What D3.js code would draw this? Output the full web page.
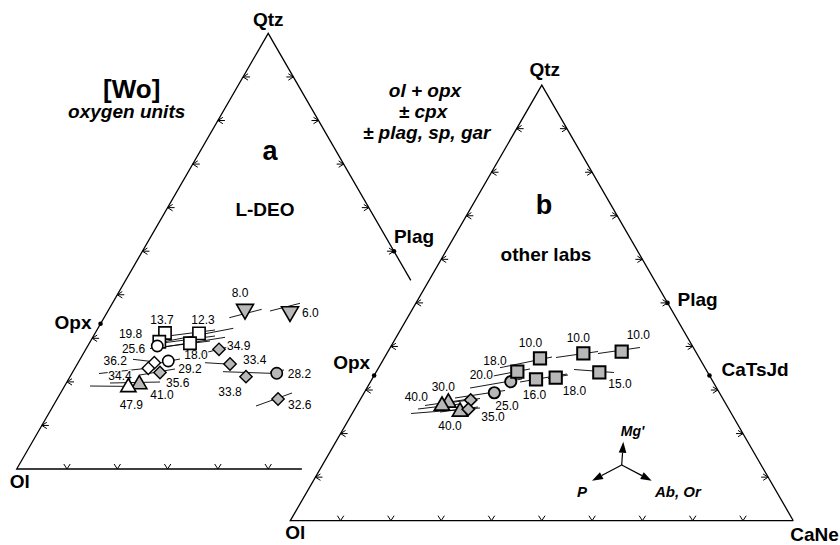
<!DOCTYPE html>
<html>
<head>
<meta charset="utf-8">
<style>
  body { margin: 0; background: #fff; }
  svg text { font-family: "Liberation Sans", Arial, Helvetica, sans-serif; }
</style>
</head>
<body>
<svg id="svg"></svg>
<script src="https://cdn.jsdelivr.net/npm/d3@7/dist/d3.min.js"></script>
<script>
  // ternary values: q = Qtz fraction, c = CaNe fraction, Ol = 1 - q - c
  // tie = projection line through the point, two ternary ends
  var tickFractions = [0.1, 0.2, 0.3, 0.4, 0.5, 0.6, 0.7, 0.8, 0.9];
  var opxPoint = [1 / 3, 0],
    plagPoint = [0.5, 0.5],
    catsjdPoint = [1 / 3, 2 / 3];

  // (a) L-DEO
  var leftOpenSquares = [
    { label: "13.7", q: 0.3122, c: 0.1387, tie: [[0.303, 0.1334], [0.3191, 0.2347]] },
    { label: "19.8", q: 0.2922, c: 0.1374, tie: [[0.287, 0.1314], [0.3053, 0.2416]] },
    { label: "12.3", q: 0.3115, c: 0.2067, tie: [[0.2927, 0.1485], [0.323, 0.2691]] },
    { label: "18.0", q: 0.2886, c: 0.2002, tie: [[0.2778, 0.142], [0.3023, 0.263]] }
  ];
  var leftOpenCircles = [
    { label: "25.6", q: 0.2824, c: 0.1383, tie: [[0.2766, 0.1267], [0.2938, 0.2374]] },
    { label: "29.2", q: 0.2479, c: 0.1774, tie: [[0.2388, 0.1456], [0.2525, 0.1984]] }
  ];
  var leftOpenDiamonds = [
    { label: "36.2", q: 0.244, c: 0.1516, tie: [[0.2518, 0.1053], [0.2445, 0.1627]] },
    { label: "34.4", q: 0.2312, c: 0.146, tie: [[0.2192, 0.054], [0.2319, 0.1491]] }
  ];
  var leftGrayDiamonds = [
    { label: "35.6", q: 0.2215, c: 0.1741, tie: [[0.2158, 0.1372], [0.2296, 0.1999]] },
    { label: "34.9", q: 0.2748, c: 0.2648, tie: [[0.264, 0.2324], [0.2812, 0.2835]] },
    { label: "33.4", q: 0.241, c: 0.3036, tie: [[0.244, 0.2524], [0.2399, 0.314]] },
    { label: "33.8", q: 0.2119, c: 0.3499, tie: [[0.2234, 0.2984], [0.2192, 0.4079]] },
    { label: "32.6", q: 0.1607, c: 0.4392, tie: [[0.1446, 0.4034], [0.1745, 0.4601]] }
  ];
  var leftGrayCircles = [
    { label: "28.2", q: 0.2197, c: 0.4071, tie: [[0.2227, 0.3922], [0.2273, 0.4178]] }
  ];
  var leftOpenTriangles = [
    { label: "47.9", q: 0.1876, c: 0.1281, tie: [[0.1905, 0.0505], [0.1894, 0.1504]] }
  ];
  var leftGrayTriangles = [
    { label: "41.0", q: 0.1944, c: 0.1465, tie: [[0.1974, 0.0868], [0.1997, 0.1851]] }
  ];
  var leftGrayDownTriangles = [
    { label: "8.0", q: 0.3666, c: 0.2706, tie: [[0.3473, 0.249], [0.3666, 0.3038]] },
    { label: "6.0", q: 0.3611, c: 0.3628, tie: [[0.3627, 0.3222], [0.3804, 0.373]] }
  ];

  // (b) other labs
  var rightGraySquares = [
    { label: "10.0", q: 0.3728, c: 0.31, tie: [[0.3512, 0.2413], [0.3758, 0.3324]] },
    { label: "10.0", q: 0.3843, c: 0.3904, tie: [[0.3747, 0.3409], [0.3884, 0.4175]] },
    { label: "10.0", q: 0.388, c: 0.4648, tie: [[0.3838, 0.4198], [0.3976, 0.4964]] },
    { label: "18.0", q: 0.3421, c: 0.2803, tie: [[0.3264, 0.2139], [0.3483, 0.3024]] },
    { label: "16.0", q: 0.3246, c: 0.3262, tie: [[0.3184, 0.2975], [0.3368, 0.3817]] },
    { label: "18.0", q: 0.3283, c: 0.3635, tie: [[0.3264, 0.3491], [0.3345, 0.3849]] },
    { label: "15.0", q: 0.3407, c: 0.444, tie: [[0.3471, 0.3905], [0.3402, 0.4734]] }
  ];
  var rightGrayCircles = [
    { label: "20.0", q: 0.3191, c: 0.2787, tie: [[0.3046, 0.205], [0.3253, 0.298]] },
    { label: "25.0", q: 0.2938, c: 0.2587, tie: [[0.2817, 0.1866], [0.2989, 0.2774]] }
  ];
  var rightGrayDiamonds = [
    { label: "", q: 0.2771, c: 0.2201, tie: [[0.2679, 0.1637], [0.2805, 0.2369]] },
    { label: "35.0", q: 0.2557, c: 0.226, tie: [[0.2495, 0.1729], [0.261, 0.2427]] }
  ];
  var rightGrayTriangles = [
    { label: "30.0", q: 0.2709, c: 0.1787, tie: [[0.2645, 0.1356], [0.2794, 0.2176]] },
    { label: "40.0", q: 0.2502, c: 0.2123, tie: [[0.2461, 0.117], [0.2587, 0.2478]] },
    { label: "40.0", q: 0.2638, c: 0.1697, tie: [[0.2564, 0.1257], [0.2679, 0.2034]] }
  ];

  var width = 840,
    height = 545;
  var gray = "#b8b8b8";
  var big = 19; // vertex / panel labels

  var svg = d3.select("#svg").attr("width", width).attr("height", height);

  // ternary -> pixel through two linear scales
  function triangle(x0, x1, yBase, yApex) {
    var sx = d3.scaleLinear().domain([0, 1]).range([x0, x1]);
    var sy = d3.scaleLinear().domain([0, 1]).range([yBase, yApex]);
    return function (q, c) {
      return [sx(c + q / 2), sy(q)];
    };
  }
  var leftT = triangle(16.7, 519.7, 469, 33.4);
  var rightT = triangle(290.3, 793.3, 520.7, 85.1);

  function drawTick(g, p, dir, stub) {
    var px = -dir[1], py = dir[0];
    var a = 5, w = 3.2, s = 7;
    var d =
      "M" + (p[0] - dir[0] * a + px * w) + "," + (p[1] - dir[1] * a + py * w) +
      "L" + p[0] + "," + p[1] +
      "L" + (p[0] - dir[0] * a - px * w) + "," + (p[1] - dir[1] * a - py * w);
    if (stub) d += "M" + p[0] + "," + p[1] + "L" + (p[0] - dir[0] * s) + "," + (p[1] - dir[1] * s);
    g.append("path").attr("d", d).attr("fill", "none").attr("stroke", "#000").attr("stroke-width", 1);
  }

  // cut = how far the base and right edge run (left frame is partly hidden)
  function drawFrame(T, cut) {
    var g = svg.append("g");
    g.append("path")
      .attr("d", d3.line()([T(0, cut), T(0, 0), T(1, 0), T(1 - cut, cut)]))
      .attr("fill", "none")
      .attr("stroke", "#000")
      .attr("stroke-width", 1.3);
    tickFractions.forEach(function (t) {
      drawTick(g, T(t, 0), [-1, 0], true);
      if (1 - t <= cut + 1e-6) drawTick(g, T(t, 1 - t), [1, 0], true);
      if (t <= cut) drawTick(g, T(0, t), [0, 1], false);
    });
    return g;
  }

  function dot(T, v) {
    var p = T(v[0], v[1]);
    svg.append("circle").attr("cx", p[0]).attr("cy", p[1]).attr("r", 2.3).attr("fill", "#000");
  }

  function text(x, y, str, size, opts) {
    opts = opts || {};
    return svg
      .append("text")
      .attr("x", x)
      .attr("y", y)
      .attr("font-size", size)
      .attr("font-weight", opts.weight || "bold")
      .attr("font-style", opts.italic ? "italic" : "normal")
      .attr("text-anchor", opts.anchor || "start")
      .text(str);
  }

  var shapes = {
    square: { type: d3.symbolSquare, size: 150, rot: 0 },
    circle: { type: d3.symbolCircle, size: 100, rot: 0 },
    diamond: { type: d3.symbolSquare, size: 76, rot: 45 },
    triangle: { type: d3.symbolTriangle, size: 100, rot: 0 },
    down: { type: d3.symbolTriangle, size: 125, rot: 180 }
  };

  function drawPoints(T, series) {
    //TIE LINES
    series.forEach(function (s) {
      svg
        .append("g")
        .selectAll("path")
        .data(s.rows)
        .enter()
        .append("path")
        .attr("d", function (d) {
          return d3.line()([T(d.tie[0][0], d.tie[0][1]), T(d.tie[1][0], d.tie[1][1])]);
        })
        .attr("stroke", "#000")
        .attr("stroke-width", 0.9);
    });
    //LABELS (white halo hides lines underneath)
    series.forEach(function (s) {
      svg
        .append("g")
        .selectAll("text")
        .data(s.rows)
        .enter()
        .append("text")
        .attr("x", function (d, i) { return T(d.q, d.c)[0] + s.place[i][1]; })
        .attr("y", function (d, i) { return T(d.q, d.c)[1] + s.place[i][2]; })
        .attr("text-anchor", function (d, i) { return s.place[i][0]; })
        .attr("font-size", 12)
        .attr("stroke", "#fff")
        .attr("stroke-width", 2.5)
        .attr("paint-order", "stroke")
        .text(function (d) { return d.label; });
    });
    //MARKERS
    series.forEach(function (s) {
      var sh = shapes[s.shape];
      svg
        .append("g")
        .selectAll("path")
        .data(s.rows)
        .enter()
        .append("path")
        .attr("d", d3.symbol().type(sh.type).size(sh.size))
        .attr("transform", function (d) {
          var p = T(d.q, d.c);
          return "translate(" + p[0] + "," + p[1] + ") rotate(" + sh.rot + ")";
        })
        .attr("fill", s.fill)
        .attr("stroke", "#000")
        .attr("stroke-width", s.sw);
    });
  }

  // ===== LEFT TRIANGLE (a) =====
  drawFrame(leftT, 0.567);
  dot(leftT, opxPoint);
  dot(leftT, plagPoint);

  drawPoints(leftT, [
    { rows: leftOpenSquares, shape: "square", fill: "#fff", sw: 1.6,
      place: [["middle", -3, -9], ["end", -17, -4], ["middle", 4, -9], ["middle", 6, 15.5]] },
    { rows: leftGrayDiamonds, shape: "diamond", fill: gray, sw: 1.4,
      place: [["start", 6, 14], ["start", 8, 1], ["start", 13, 0], ["middle", -16, 19], ["start", 10, 10]] },
    { rows: leftOpenDiamonds, shape: "diamond", fill: "#fff", sw: 1.4,
      place: [["end", -27.5, 2], ["end", -16.6, 12]] },
    { rows: leftOpenCircles, shape: "circle", fill: "#fff", sw: 1.6,
      place: [["end", -12, 7], ["start", 10, 11.5]] },
    { rows: leftGrayCircles, shape: "circle", fill: gray, sw: 1.6,
      place: [["start", 11, 4.5]] },
    { rows: leftGrayTriangles, shape: "triangle", fill: gray, sw: 1.6,
      place: [["start", 11, 15]] },
    { rows: leftOpenTriangles, shape: "triangle", fill: "#fff", sw: 1.6,
      place: [["middle", 3, 22]] },
    { rows: leftGrayDownTriangles, shape: "down", fill: gray, sw: 1.6,
      place: [["middle", -5, -12], ["start", 12, 5]] }
  ]);

  // ===== RIGHT TRIANGLE (b) =====
  drawFrame(rightT, 1);
  dot(rightT, opxPoint);
  dot(rightT, plagPoint);
  dot(rightT, catsjdPoint);

  drawPoints(rightT, [
    { rows: rightGrayTriangles, shape: "triangle", fill: gray, sw: 1.7,
      place: [["middle", -5, -11.7], ["middle", -10, 18], ["end", -14, -4.5]] },
    { rows: rightGrayDiamonds, shape: "diamond", fill: gray, sw: 1.6,
      place: [["start", 10, 10], ["start", 13, 12]] },
    { rows: rightGrayCircles, shape: "circle", fill: gray, sw: 1.9,
      place: [["end", -17.7, -2.7], ["start", 1, 17]] },
    { rows: rightGraySquares, shape: "square", fill: gray, sw: 2,
      place: [["middle", -9.5, -11], ["middle", -5, -11], ["start", 5, -12.5], ["end", -10.6, -6.7],
              ["middle", -1.5, 20], ["start", 7, 17], ["start", 9, 16]] }
  ]);

  // ===== TEXT =====
  var lq = leftT(1, 0), lo = leftT(0, 0), lopx = leftT(opxPoint[0], opxPoint[1]), lpl = leftT(plagPoint[0], plagPoint[1]);
  text(lq[0], lq[1] - 7.5, "Qtz", big, { anchor: "middle" });
  text(lo[0] - 7, lo[1] + 19, "Ol", big);
  text(lopx[0] - 9, lopx[1] + 5, "Opx", big, { anchor: "end" });
  text(lpl[0], lpl[1] - 8.5, "Plag", big);

  text(131.7, 97.5, "[Wo]", 26, { anchor: "middle" });
  text(126.7, 118, "oxygen units", big, { anchor: "middle", italic: true });
  text(270, 160, "a", 27, { anchor: "middle" });
  text(265, 216, "L-DEO", big, { anchor: "middle" });

  text(425, 97, "ol + opx", big, { anchor: "middle", italic: true });
  text(423, 118, "\u00b1 cpx", big, { anchor: "middle", italic: true });
  text(426.7, 138.5, "\u00b1 plag, sp, gar", big, { anchor: "middle", italic: true });

  var rq = rightT(1, 0), ro = rightT(0, 0), rc = rightT(0, 1),
    ropx = rightT(opxPoint[0], opxPoint[1]), rpl = rightT(plagPoint[0], plagPoint[1]),
    rcj = rightT(catsjdPoint[0], catsjdPoint[1]);
  text(rq[0] + 3, rq[1] - 9, "Qtz", big, { anchor: "middle" });
  text(ro[0] - 5, ro[1] + 18, "Ol", big);
  text(rc[0] - 3, rc[1] + 20, "CaNe", big);
  text(ropx[0] - 4, ropx[1] - 6.5, "Opx", big, { anchor: "end" });
  text(rpl[0] + 10, rpl[1] + 3.5, "Plag", big);
  text(rcj[0] + 12, rcj[1] + 0.5, "CaTsJd", big);

  text(544, 214, "b", 27, { anchor: "middle" });
  text(546, 261, "other labs", big, { anchor: "middle" });

  // ===== VECTOR LEGEND =====
  var hub = [621.7, 465];
  var arrows = [
    { tip: [623.3, 441.7], label: "Mg'", lx: 632.5, ly: 436, anchor: "middle" },
    { tip: [651.7, 480.7], label: "Ab, Or", lx: 655, ly: 496.5, anchor: "start" },
    { tip: [592, 480.7], label: "P", lx: 587, ly: 496.5, anchor: "end" }
  ];
  arrows.forEach(function (a) {
    var dx = a.tip[0] - hub[0], dy = a.tip[1] - hub[1];
    var len = Math.sqrt(dx * dx + dy * dy), ux = dx / len, uy = dy / len;
    var hl = 11, hw = 3.8;
    var bx = a.tip[0] - ux * hl, by = a.tip[1] - uy * hl;
    svg.append("line")
      .attr("x1", hub[0]).attr("y1", hub[1]).attr("x2", bx).attr("y2", by)
      .attr("stroke", "#000").attr("stroke-width", 1.2);
    svg.append("path")
      .attr("d", d3.line()([a.tip, [bx - uy * hw, by + ux * hw], [bx + uy * hw, by - ux * hw]]) + "Z")
      .attr("fill", "#000");
    text(a.lx, a.ly, a.label, a.label === "Mg'" ? 14 : 15, { anchor: a.anchor, italic: true });
  });
</script>
</body>
</html>
